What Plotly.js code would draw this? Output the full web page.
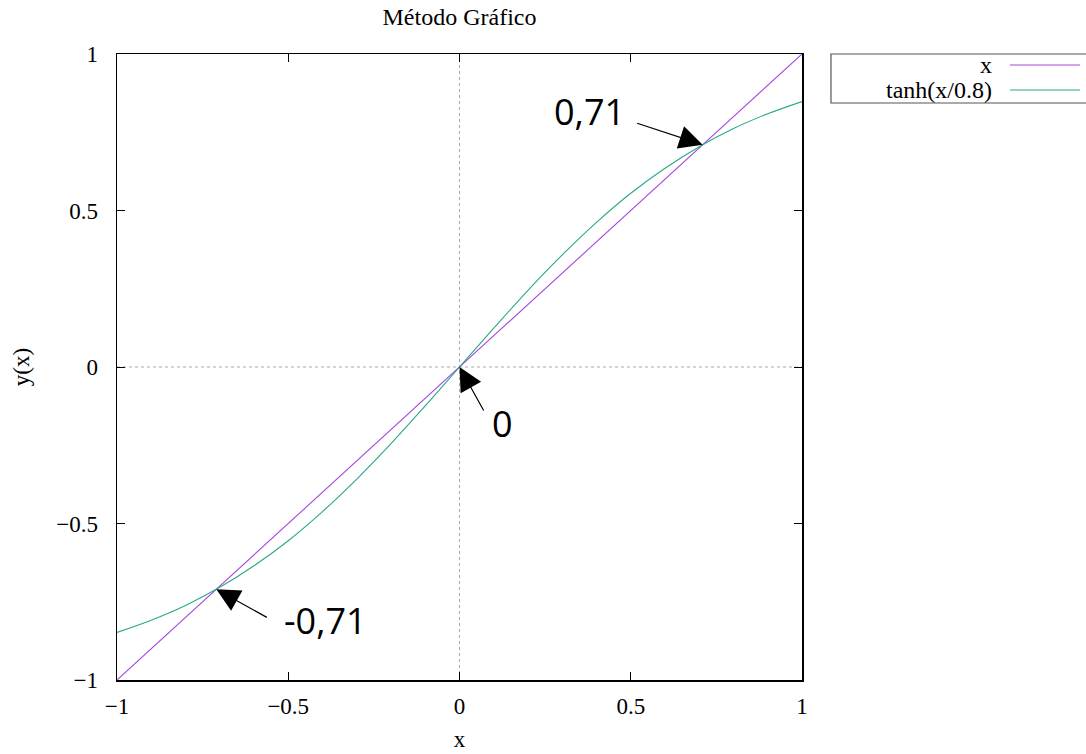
<!DOCTYPE html>
<html>
<head>
<meta charset="utf-8">
<script src="https://cdn.plot.ly/plotly-3.0.1.min.js"></script>
<style>html,body{margin:0;padding:0;background:#fff;}#chart{width:1086px;height:754px;}</style>
</head>
<body>
<div id="chart"></div>
<script>
// Data
var xVals = [-1, -0.9, -0.8, -0.7, -0.6, -0.5, -0.4, -0.3, -0.2, -0.1, 0, 0.1, 0.2, 0.3, 0.4, 0.5, 0.6, 0.7, 0.8, 0.9, 1];
var lineY = [-1, -0.9, -0.8, -0.7, -0.6, -0.5, -0.4, -0.3, -0.2, -0.1, 0, 0.1, 0.2, 0.3, 0.4, 0.5, 0.6, 0.7, 0.8, 0.9, 1];
var tanhY = [-0.848, -0.809, -0.762, -0.704, -0.635, -0.555, -0.462, -0.358, -0.245, -0.124, 0, 0.124, 0.245, 0.358, 0.462, 0.555, 0.635, 0.704, 0.762, 0.809, 0.848];
var seriesNames = ['x', 'tanh(x/0.8)'];
var seriesColors = ['#a546dc', '#2aa886'];
var intersectX = [0.71, 0, -0.71];
var intersectY = [0.71, 0, -0.71];
var intersectLabels = ['0,71', '0', '-0,71'];
var tickVals = [-1, -0.5, 0, 0.5, 1];
var tickText = ['\u22121', '\u22120.5', '0', '0.5', '1'];

// pixel offsets of arrow tails and labels (relative to intersection)
var arrowTail = [[-67, -22], [25, 45], [52, 29]];
var labelOff = [[-113, -33], [43, 56], [109, 31]];

var serif = 'Liberation Serif, Times New Roman, serif';
var fs = 23;
var fsTitle = 24;

var traces = [
  {x: xVals, y: lineY, mode: 'lines', name: seriesNames[0], line: {color: seriesColors[0], width: 1.1}, showlegend: false},
  {x: xVals, y: tanhY, mode: 'lines', name: seriesNames[1], line: {color: seriesColors[1], width: 1.1, shape: 'spline'}, showlegend: false}
];

var annotations = [];
for (var i = 0; i < intersectX.length; i++) {
  annotations.push({
    x: intersectX[i], y: intersectY[i], xref: 'x', yref: 'y',
    text: '', showarrow: true, arrowhead: 2, arrowsize: 3.9, arrowwidth: 1.2,
    arrowcolor: '#000', ax: arrowTail[i][0], ay: arrowTail[i][1], standoff: 0
  });
  annotations.push({
    x: intersectX[i], y: intersectY[i], xref: 'x', yref: 'y',
    text: intersectLabels[i], showarrow: false,
    xshift: labelOff[i][0], yshift: -labelOff[i][1],
    font: {family: 'Open Sans, sans-serif', size: 36, color: '#000'}
  });
}

// custom legend (text left, sample right, as in gnuplot)
var legendY = [0.9824, 0.9425];
for (var j = 0; j < seriesNames.length; j++) {
  annotations.push({
    xref: 'paper', yref: 'paper', x: 1.2803, y: legendY[j],
    xanchor: 'right', yanchor: 'middle', text: seriesNames[j], showarrow: false,
    font: {family: serif, size: fsTitle, color: '#000'}
  });
}

var shapes = [
  {type: 'line', xref: 'x', yref: 'paper', x0: 0, x1: 0, y0: 0, y1: 1, line: {color: '#aaa', width: 1, dash: 'dot'}, layer: 'below'},
  {type: 'line', xref: 'paper', yref: 'y', x0: 0, x1: 1, y0: 0, y1: 0, line: {color: '#aaa', width: 1, dash: 'dot'}, layer: 'below'},
  {type: 'rect', xref: 'paper', yref: 'paper', x0: 1.0423, x1: 1.43, y0: 0.9217, y1: 1.0, line: {color: '#555', width: 1.2}}
];
for (var k = 0; k < seriesNames.length; k++) {
  shapes.push({type: 'line', xref: 'paper', yref: 'paper', x0: 1.3036, x1: 1.4058, y0: legendY[k], y1: legendY[k], line: {color: seriesColors[k], width: 1.2}});
}

var axisCommon = {
  range: [-1, 1], tickvals: tickVals, ticktext: tickText,
  ticks: 'inside', ticklen: 8, tickwidth: 1, tickcolor: '#000',
  showline: true, linecolor: '#000', linewidth: 1.5, mirror: 'ticks',
  showgrid: false, zeroline: false,
  tickfont: {family: serif, size: fs, color: '#000'}
};

var layout = {
  width: 1086, height: 754,
  margin: {l: 117, r: 284, t: 54, b: 74},
  paper_bgcolor: '#fff', plot_bgcolor: '#fff',
  title: {text: 'Método Gráfico', font: {family: serif, size: fsTitle, color: '#000'}, x: 0.5, xref: 'paper', y: 1 - 17/754, yref: 'container', yanchor: 'middle'},
  xaxis: Object.assign({}, axisCommon, {title: {text: 'x', font: {family: serif, size: fs, color: '#000'}, standoff: 13}, ticklabelstandoff: 5}),
  yaxis: Object.assign({}, axisCommon, {title: {text: 'y(x)', font: {family: serif, size: fs, color: '#000'}, standoff: 20}, ticklabelstandoff: 13}),
  annotations: annotations,
  shapes: shapes,
  showlegend: false
};

Plotly.newPlot('chart', traces, layout, {displayModeBar: false, staticPlot: true});
</script>
</body>
</html>
